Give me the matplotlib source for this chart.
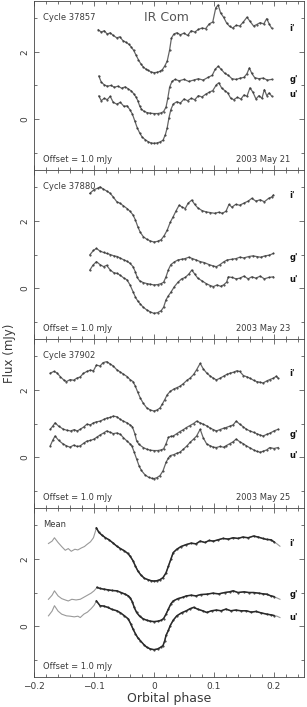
import numpy as np
import matplotlib.pyplot as plt
from matplotlib.ticker import MultipleLocator

# ---- light curves (orbital phase, flux in mJy, offsets included) ----
# Cycle 37857, 2003 May 21
c57_i_ph = [-0.093, -0.088, -0.083, -0.078, -0.073, -0.068, -0.062, -0.057, -0.052, -0.047, -0.042,
            -0.038, -0.034, -0.030, -0.026, -0.022, -0.018, -0.014, -0.010, -0.005, 0.000, 0.005,
            0.010, 0.014, 0.018, 0.022, 0.026, 0.029, 0.033, 0.038, 0.044, 0.050, 0.056, 0.062,
            0.068, 0.074, 0.080, 0.086, 0.092, 0.098, 0.103, 0.107, 0.111, 0.116, 0.121, 0.126,
            0.131, 0.137, 0.143, 0.149, 0.155, 0.160, 0.166, 0.171, 0.177, 0.183, 0.188, 0.192, 0.196]
c57_i_fx = [2.65, 2.58, 2.62, 2.52, 2.56, 2.48, 2.41, 2.44, 2.33, 2.28, 2.22,
            2.14, 2.04, 1.90, 1.76, 1.64, 1.55, 1.49, 1.45, 1.40, 1.38, 1.39,
            1.42, 1.47, 1.58, 1.72, 2.05, 2.40, 2.52, 2.56, 2.50, 2.55, 2.48, 2.62,
            2.58, 2.66, 2.70, 2.68, 2.82, 2.88, 3.30, 3.38, 3.15, 3.02, 2.85, 2.75,
            2.70, 2.78, 2.76, 2.88, 3.02, 2.90, 2.76, 2.80, 2.86, 2.82, 2.98, 2.82, 2.70]
c57_g_ph = [-0.092, -0.088, -0.083, -0.078, -0.072, -0.066, -0.060, -0.054, -0.048, -0.043, -0.038,
            -0.034, -0.030, -0.027, -0.024, -0.021, -0.017, -0.012, -0.006, 0.000, 0.006, 0.012,
            0.016, 0.020, 0.023, 0.026, 0.030, 0.035, 0.042, 0.050, 0.058, 0.066, 0.074, 0.082,
            0.090, 0.097, 0.102, 0.107, 0.112, 0.118, 0.124, 0.130, 0.137, 0.144, 0.150, 0.155,
            0.159, 0.163, 0.168, 0.175, 0.182, 0.189, 0.196]
c57_g_fx = [1.28, 1.10, 1.02, 0.98, 1.00, 0.95, 0.98, 0.92, 0.96, 0.90, 0.84,
            0.76, 0.66, 0.55, 0.40, 0.30, 0.24, 0.20, 0.18, 0.17, 0.17, 0.19,
            0.23, 0.36, 0.62, 0.95, 1.12, 1.18, 1.14, 1.18, 1.12, 1.16, 1.20, 1.16,
            1.24, 1.30, 1.48, 1.57, 1.48, 1.36, 1.30, 1.20, 1.18, 1.22, 1.24, 1.35,
            1.52, 1.36, 1.23, 1.20, 1.22, 1.16, 1.18]
c57_u_ph = [-0.092, -0.088, -0.083, -0.078, -0.073, -0.068, -0.062, -0.056, -0.050, -0.045, -0.040,
            -0.036, -0.032, -0.028, -0.024, -0.020, -0.015, -0.010, -0.005, 0.000, 0.005, 0.010,
            0.015, 0.019, 0.022, 0.025, 0.028, 0.032, 0.038, 0.044, 0.050, 0.056, 0.062, 0.068,
            0.074, 0.080, 0.086, 0.092, 0.098, 0.104, 0.108, 0.113, 0.118, 0.123, 0.128, 0.133,
            0.139, 0.145, 0.150, 0.155, 0.160, 0.165, 0.170, 0.175, 0.180, 0.184, 0.188, 0.192, 0.196]
c57_u_fx = [0.69, 0.55, 0.62, 0.58, 0.68, 0.50, 0.45, 0.50, 0.38, 0.40, 0.28,
            0.15, -0.05, -0.25, -0.40, -0.52, -0.60, -0.66, -0.70, -0.71, -0.70, -0.67,
            -0.62, -0.45, -0.25, 0.05, 0.28, 0.45, 0.52, 0.48, 0.60, 0.55, 0.62, 0.58,
            0.70, 0.66, 0.74, 0.80, 0.85, 1.02, 1.08, 0.92, 0.85, 0.78, 0.62, 0.58,
            0.65, 0.60, 0.72, 0.68, 0.93, 0.80, 0.60, 0.70, 0.62, 0.88, 0.70, 0.78, 0.69]

# Cycle 37880, 2003 May 23
c80_i_ph = [-0.107, -0.100, -0.094, -0.090, -0.085, -0.079, -0.073, -0.068, -0.062, -0.057, -0.051,
            -0.045, -0.040, -0.035, -0.031, -0.027, -0.023, -0.018, -0.012, -0.006, 0.000, 0.006,
            0.012, 0.017, 0.022, 0.027, 0.032, 0.037, 0.042, 0.047, 0.052, 0.057, 0.063, 0.068,
            0.073, 0.080, 0.087, 0.094, 0.101, 0.108, 0.114, 0.120, 0.125, 0.130, 0.136, 0.143,
            0.150, 0.157, 0.163, 0.170, 0.177, 0.184, 0.191, 0.196, 0.199]
c80_i_fx = [2.81, 2.92, 2.96, 3.00, 2.94, 2.88, 2.81, 2.70, 2.56, 2.52, 2.44,
            2.36, 2.28, 2.17, 2.02, 1.82, 1.66, 1.53, 1.45, 1.40, 1.37, 1.39,
            1.44, 1.56, 1.72, 1.95, 2.12, 2.30, 2.46, 2.40, 2.36, 2.52, 2.61, 2.48,
            2.38, 2.30, 2.26, 2.24, 2.22, 2.25, 2.22, 2.28, 2.48, 2.40, 2.48, 2.46,
            2.52, 2.58, 2.66, 2.58, 2.62, 2.56, 2.66, 2.70, 2.76]
c80_g_ph = [-0.107, -0.101, -0.096, -0.090, -0.084, -0.079, -0.073, -0.067, -0.061, -0.056, -0.050,
            -0.045, -0.040, -0.035, -0.031, -0.028, -0.024, -0.018, -0.012, -0.006, 0.000, 0.006,
            0.012, 0.016, 0.020, 0.024, 0.028, 0.034, 0.040, 0.046, 0.052, 0.058, 0.064, 0.070,
            0.077, 0.084, 0.092, 0.099, 0.104, 0.110, 0.116, 0.122, 0.130, 0.137, 0.143, 0.150,
            0.158, 0.165, 0.171, 0.178, 0.185, 0.192, 0.199]
c80_g_fx = [0.99, 1.12, 1.18, 1.10, 1.06, 1.03, 1.00, 0.96, 0.94, 0.89, 0.84,
            0.80, 0.74, 0.64, 0.48, 0.32, 0.22, 0.17, 0.14, 0.12, 0.10, 0.11,
            0.14, 0.18, 0.34, 0.55, 0.70, 0.78, 0.84, 0.86, 0.88, 0.92, 0.88, 0.84,
            0.79, 0.76, 0.70, 0.66, 0.64, 0.70, 0.78, 0.84, 0.86, 0.88, 0.92, 0.90,
            0.94, 0.96, 0.94, 0.92, 0.96, 0.98, 1.03]
c80_u_ph = [-0.107, -0.102, -0.096, -0.090, -0.084, -0.079, -0.073, -0.067, -0.061, -0.056, -0.050,
            -0.045, -0.040, -0.035, -0.031, -0.027, -0.023, -0.018, -0.012, -0.006, 0.000, 0.006,
            0.012, 0.016, 0.020, 0.024, 0.028, 0.034, 0.040, 0.046, 0.052, 0.058, 0.063, 0.068,
            0.073, 0.080, 0.087, 0.094, 0.099, 0.105, 0.111, 0.116, 0.121, 0.124, 0.130, 0.137,
            0.143, 0.150, 0.157, 0.163, 0.170, 0.177, 0.184, 0.191, 0.199]
c80_u_fx = [0.54, 0.68, 0.79, 0.70, 0.64, 0.68, 0.54, 0.46, 0.44, 0.38, 0.30,
            0.25, 0.10, -0.10, -0.26, -0.38, -0.46, -0.56, -0.64, -0.70, -0.74, -0.72,
            -0.66, -0.56, -0.34, -0.22, -0.12, 0.05, 0.18, 0.28, 0.32, 0.42, 0.54, 0.42,
            0.30, 0.22, 0.14, 0.08, 0.05, 0.10, 0.06, 0.10, 0.18, 0.34, 0.32, 0.28,
            0.30, 0.36, 0.28, 0.34, 0.30, 0.36, 0.28, 0.32, 0.34]

# Cycle 37902, 2003 May 25
c02_i_ph = [-0.173, -0.167, -0.162, -0.156, -0.150, -0.146, -0.140, -0.134, -0.129, -0.123, -0.118,
            -0.112, -0.106, -0.101, -0.096, -0.090, -0.085, -0.079, -0.073, -0.068, -0.062, -0.056,
            -0.051, -0.045, -0.040, -0.035, -0.031, -0.027, -0.023, -0.018, -0.012, -0.006, 0.000,
            0.005, 0.010, 0.014, 0.018, 0.022, 0.027, 0.033, 0.038, 0.043, 0.049, 0.055, 0.060,
            0.066, 0.071, 0.077, 0.082, 0.088, 0.094, 0.099, 0.104, 0.110, 0.116, 0.121, 0.127,
            0.133, 0.138, 0.143, 0.149, 0.155, 0.160, 0.166, 0.171, 0.177, 0.182, 0.188, 0.193,
            0.199, 0.204, 0.207]
c02_i_fx = [2.49, 2.54, 2.50, 2.38, 2.28, 2.24, 2.30, 2.28, 2.34, 2.38, 2.48,
            2.54, 2.58, 2.56, 2.73, 2.70, 2.80, 2.83, 2.76, 2.70, 2.59, 2.52,
            2.46, 2.39, 2.30, 2.24, 2.10, 1.92, 1.76, 1.60, 1.46, 1.40, 1.37,
            1.40, 1.46, 1.58, 1.71, 1.85, 1.95, 2.02, 2.06, 2.10, 2.18, 2.28, 2.34,
            2.45, 2.59, 2.78, 2.62, 2.49, 2.40, 2.34, 2.29, 2.34, 2.40, 2.45, 2.49,
            2.52, 2.56, 2.54, 2.42, 2.38, 2.34, 2.28, 2.24, 2.22, 2.20, 2.26, 2.30,
            2.34, 2.40, 2.34]
c02_g_ph = [-0.173, -0.169, -0.165, -0.159, -0.151, -0.145, -0.139, -0.133, -0.128, -0.123, -0.117,
            -0.112, -0.106, -0.101, -0.096, -0.090, -0.084, -0.079, -0.073, -0.068, -0.062, -0.056,
            -0.051, -0.045, -0.040, -0.036, -0.032, -0.029, -0.025, -0.018, -0.012, -0.006, 0.000,
            0.006, 0.012, 0.016, 0.020, 0.024, 0.028, 0.032, 0.038, 0.043, 0.049, 0.054, 0.060,
            0.066, 0.071, 0.077, 0.082, 0.088, 0.094, 0.099, 0.104, 0.110, 0.116, 0.120, 0.126,
            0.132, 0.137, 0.143, 0.149, 0.154, 0.160, 0.166, 0.171, 0.177, 0.182, 0.188, 0.194,
            0.200, 0.207]
c02_g_fx = [0.83, 0.92, 1.02, 0.92, 0.83, 0.80, 0.78, 0.82, 0.78, 0.83, 0.90,
            0.98, 0.96, 1.02, 1.05, 1.07, 1.12, 1.16, 1.18, 1.22, 1.20, 1.12,
            1.07, 1.02, 0.96, 0.90, 0.70, 0.49, 0.38, 0.29, 0.24, 0.21, 0.20,
            0.20, 0.22, 0.25, 0.40, 0.59, 0.62, 0.63, 0.70, 0.76, 0.82, 0.88, 0.94,
            1.00, 1.07, 1.02, 0.98, 0.93, 0.86, 0.82, 0.78, 0.82, 0.86, 0.88, 0.92,
            0.96, 1.07, 0.98, 0.90, 0.83, 0.78, 0.74, 0.70, 0.66, 0.63, 0.68, 0.72,
            0.78, 0.83]
c02_u_ph = [-0.173, -0.169, -0.165, -0.159, -0.152, -0.146, -0.140, -0.134, -0.128, -0.123, -0.117,
            -0.112, -0.106, -0.100, -0.095, -0.090, -0.084, -0.079, -0.073, -0.068, -0.062, -0.056,
            -0.051, -0.045, -0.040, -0.037, -0.033, -0.029, -0.025, -0.021, -0.015, -0.009, -0.004,
            0.000, 0.005, 0.010, 0.015, 0.020, 0.024, 0.027, 0.033, 0.038, 0.043, 0.049, 0.055,
            0.060, 0.066, 0.071, 0.077, 0.082, 0.088, 0.094, 0.099, 0.104, 0.110, 0.116, 0.120,
            0.126, 0.132, 0.137, 0.143, 0.149, 0.154, 0.160, 0.166, 0.171, 0.177, 0.182, 0.188,
            0.193, 0.200, 0.207]
c02_u_fx = [0.34, 0.50, 0.63, 0.50, 0.40, 0.34, 0.30, 0.36, 0.32, 0.34, 0.42,
            0.48, 0.50, 0.54, 0.60, 0.66, 0.72, 0.78, 0.74, 0.70, 0.72, 0.68,
            0.58, 0.48, 0.40, 0.34, 0.15, -0.05, -0.25, -0.39, -0.52, -0.59, -0.62,
            -0.63, -0.60, -0.54, -0.40, -0.15, -0.02, 0.05, 0.08, 0.12, 0.15, 0.24, 0.34,
            0.44, 0.54, 0.63, 0.83, 0.58, 0.39, 0.34, 0.30, 0.29, 0.32, 0.30, 0.34,
            0.40, 0.46, 0.54, 0.46, 0.40, 0.34, 0.28, 0.22, 0.18, 0.15, 0.18, 0.22,
            0.29, 0.26, 0.29]

# Mean light curve (all cycles)
mn_i_ph = [-0.176, -0.170, -0.166, -0.160, -0.154, -0.148, -0.143, -0.138, -0.132, -0.127, -0.121,
           -0.116, -0.112, -0.106, -0.101, -0.096, -0.092, -0.087, -0.081, -0.075, -0.068, -0.062,
           -0.056, -0.050, -0.044, -0.040, -0.035, -0.031, -0.027, -0.022, -0.016, -0.010, -0.005,
           0.000, 0.005, 0.010, 0.015, 0.020, 0.024, 0.028, 0.032, 0.038, 0.045, 0.054, 0.062,
           0.070, 0.077, 0.085, 0.092, 0.099, 0.107, 0.115, 0.124, 0.132, 0.140, 0.148, 0.157,
           0.166, 0.174, 0.181, 0.188, 0.195, 0.200, 0.205, 0.210]
mn_i_fx = [2.45, 2.52, 2.62, 2.48, 2.36, 2.25, 2.30, 2.22, 2.28, 2.26, 2.32,
           2.36, 2.42, 2.50, 2.62, 2.91, 2.78, 2.70, 2.62, 2.56, 2.46, 2.37,
           2.30, 2.24, 2.16, 2.08, 1.94, 1.78, 1.64, 1.52, 1.42, 1.38, 1.35,
           1.34, 1.35, 1.38, 1.44, 1.58, 1.78, 1.98, 2.18, 2.28, 2.36, 2.42, 2.46,
           2.44, 2.52, 2.48, 2.54, 2.52, 2.56, 2.60, 2.58, 2.62, 2.60, 2.64, 2.62,
           2.67, 2.64, 2.60, 2.57, 2.56, 2.50, 2.44, 2.37]
mn_g_ph = [-0.176, -0.170, -0.166, -0.160, -0.154, -0.148, -0.143, -0.137, -0.130, -0.123, -0.117,
           -0.111, -0.105, -0.100, -0.095, -0.090, -0.084, -0.077, -0.070, -0.062, -0.055, -0.048,
           -0.043, -0.040, -0.036, -0.033, -0.029, -0.024, -0.018, -0.012, -0.006, 0.000, 0.006,
           0.012, 0.016, 0.020, 0.024, 0.028, 0.032, 0.040, 0.048, 0.054, 0.062, 0.070, 0.078,
           0.088, 0.098, 0.108, 0.118, 0.126, 0.132, 0.140, 0.150, 0.158, 0.166, 0.175, 0.182,
           0.188, 0.195, 0.200, 0.205, 0.210]
mn_g_fx = [0.80, 0.92, 1.05, 0.90, 0.82, 0.78, 0.75, 0.80, 0.78, 0.80, 0.86,
           0.92, 0.98, 1.05, 1.15, 1.12, 1.10, 1.08, 1.06, 1.05, 1.00, 0.95,
           0.90, 0.85, 0.72, 0.56, 0.41, 0.30, 0.22, 0.18, 0.15, 0.14, 0.15,
           0.18, 0.23, 0.36, 0.51, 0.66, 0.75, 0.82, 0.86, 0.90, 0.92, 0.90, 0.94,
           0.95, 0.98, 0.96, 1.00, 1.02, 1.05, 1.00, 1.02, 1.00, 1.00, 0.98, 0.96,
           0.95, 0.90, 0.88, 0.84, 0.80]
mn_u_ph = [-0.176, -0.170, -0.166, -0.160, -0.154, -0.146, -0.140, -0.133, -0.127, -0.123, -0.117,
           -0.111, -0.105, -0.100, -0.096, -0.090, -0.084, -0.077, -0.070, -0.062, -0.056, -0.050,
           -0.043, -0.039, -0.035, -0.031, -0.027, -0.023, -0.017, -0.012, -0.006, 0.000, 0.006,
           0.011, 0.015, 0.018, 0.020, 0.024, 0.027, 0.032, 0.038, 0.046, 0.054, 0.060, 0.066,
           0.074, 0.081, 0.088, 0.096, 0.104, 0.112, 0.120, 0.128, 0.136, 0.145, 0.154, 0.162,
           0.170, 0.178, 0.188, 0.195, 0.200, 0.205, 0.210]
mn_u_fx = [0.31, 0.45, 0.61, 0.45, 0.36, 0.31, 0.30, 0.28, 0.30, 0.26, 0.36,
           0.42, 0.52, 0.62, 0.75, 0.61, 0.60, 0.56, 0.50, 0.46, 0.40, 0.32,
           0.22, 0.08, -0.08, -0.22, -0.34, -0.42, -0.54, -0.62, -0.67, -0.69, -0.67,
           -0.62, -0.57, -0.42, -0.27, -0.12, 0.02, 0.18, 0.31, 0.40, 0.46, 0.52, 0.56,
           0.50, 0.46, 0.41, 0.46, 0.48, 0.46, 0.51, 0.46, 0.48, 0.46, 0.46, 0.42,
           0.44, 0.40, 0.36, 0.34, 0.32, 0.30, 0.26]

panel_titles = ["Cycle 37857", "Cycle 37880", "Cycle 37902", "Mean"]
panel_dates = ["2003 May 21", "2003 May 23", "2003 May 25", ""]
band_names = ["i'", "g'", "u'"]
# flux level of the band labels at the right of each panel
band_label_y = [[2.70, 1.18, 0.74], [2.76, 0.92, 0.27], [2.49, 0.68, 0.05], [2.45, 0.95, 0.26]]
# phase range covered by all three cycles in the mean curve (drawn darker)
mean_full = (-0.097, 0.201)

curves = [
    [(c57_i_ph, c57_i_fx), (c57_g_ph, c57_g_fx), (c57_u_ph, c57_u_fx)],
    [(c80_i_ph, c80_i_fx), (c80_g_ph, c80_g_fx), (c80_u_ph, c80_u_fx)],
    [(c02_i_ph, c02_i_fx), (c02_g_ph, c02_g_fx), (c02_u_ph, c02_u_fx)],
    [(mn_i_ph, mn_i_fx), (mn_g_ph, mn_g_fx), (mn_u_ph, mn_u_fx)],
]

plt.rcParams['font.family'] = ['DejaVu Sans']
TXT = '#3a3a3a'

fig, axes = plt.subplots(4, 1, figsize=(3.07, 7.07), dpi=100, sharex=True)
fig.subplots_adjust(left=0.111, right=0.990, bottom=0.0424, top=0.9986, hspace=0)

for k, ax in enumerate(axes):
    for (ph, fx) in curves[k]:
        ph = np.asarray(ph)
        fx = np.asarray(fx)
        if k < 3:
            ax.plot(ph, fx, color='#666666', lw=0.9, marker='.', ms=1.0,
                    mfc='#333333', mec='#333333')
        else:
            ax.plot(ph, fx, color='#9a9a9a', lw=0.8)
            m = (ph >= mean_full[0]) & (ph <= mean_full[1])
            ax.plot(ph[m], fx[m], color='#2a2a2a', lw=1.1, marker='.', ms=1.0)
    ax.set_xlim(-0.2, 0.25)
    ax.set_ylim(-1.5, 3.5)
    ax.xaxis.set_major_locator(MultipleLocator(0.1))
    ax.xaxis.set_minor_locator(MultipleLocator(0.02))
    ax.yaxis.set_major_locator(MultipleLocator(2))
    ax.yaxis.set_minor_locator(MultipleLocator(1))
    ax.tick_params(which='both', direction='in', top=True, right=True,
                   colors=TXT, labelsize=6.5, width=0.5)
    ax.tick_params(which='major', length=3.5)
    ax.tick_params(which='minor', length=2.5)
    for lab in ax.get_yticklabels():
        lab.set_rotation(90)
        lab.set_va('center')
    for sp in ax.spines.values():
        sp.set_linewidth(0.6)
        sp.set_color('#444444')

    ax.text(0.033, 0.905, panel_titles[k], transform=ax.transAxes,
            fontsize=6, color=TXT, va='center', ha='left')
    ax.text(0.033, 0.065, "Offset = 1.0 mJy", transform=ax.transAxes,
            fontsize=6, color=TXT, va='center', ha='left')
    if panel_dates[k]:
        ax.text(0.948, 0.065, panel_dates[k], transform=ax.transAxes,
                fontsize=6, color=TXT, va='center', ha='right')
    for name, yl in zip(band_names, band_label_y[k]):
        ax.text(0.226, yl, name, fontsize=6, color='#111111',
                fontweight='bold', va='center', ha='left')

axes[0].text(0.49, 0.905, "IR Com", transform=axes[0].transAxes,
             fontsize=9, color='#555555', va='center', ha='center')

axes[-1].set_xticks([-0.2, -0.1, 0, 0.1, 0.2])
axes[-1].set_xticklabels(["\u22120.2", "\u22120.1", "0", "0.1", "0.2"])
axes[-1].set_xlabel("Orbital phase", fontsize=9, color=TXT, labelpad=1)
fig.text(0.03, 0.5, "Flux (mJy)", rotation=90, fontsize=8.5, color=TXT,
         va='center', ha='center')

fig.savefig("out.png", dpi=100)
